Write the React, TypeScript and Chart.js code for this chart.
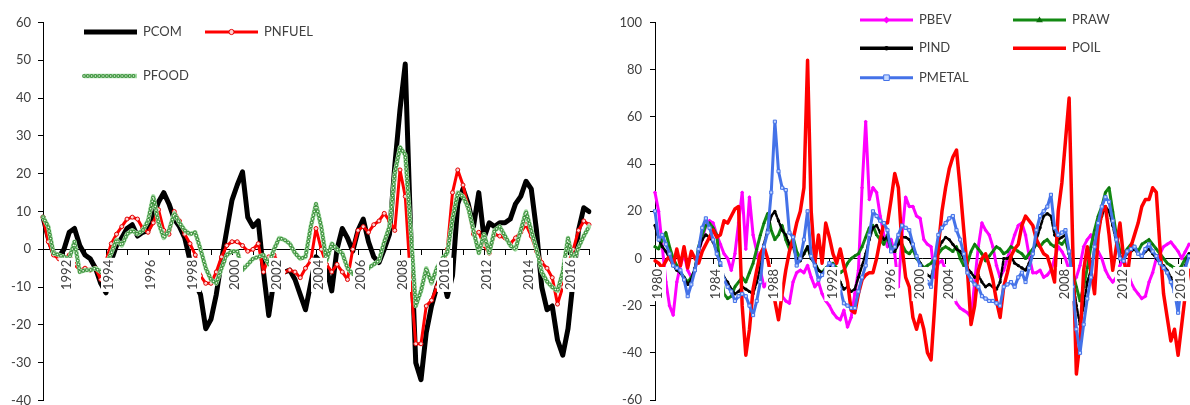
import React, { useEffect, useRef } from 'react';
import { Chart, registerables } from 'chart.js';

Chart.register(...registerables);

// ---------------- Left panel: quarterly, from 1991Q1 ----------------
const leftStartYear = 1991;
const leftAxisYears = ['1992', '1994', '1996', '1998', '2000', '2002', '2004', '2006', '2008', '2010', '2012', '2014', '2016'];

const pcom = [
  8.5, 3, -1, -2, // 1991
  0, 4.5, 5.5, 1, // 1992
  -1.5, -2.5, -5, -9, // 1993
  -11.5, -3, 1, 3, // 1994
  5.5, 6.5, 3.5, 4.5, // 1995
  5, 9, 12.5, 15, // 1996
  12, 8, 6, 3, // 1997
  -3, -9, -12, -21, // 1998
  -18.5, -12, -3, 5, // 1999
  13, 17, 20.5, 8.5, // 2000
  6, 7.5, -6, -17.5, // 2001
  -8, -5.5, -6, -5.5, // 2002
  -8, -12, -16, -9, // 2003
  -2, -3.5, -5, -11, // 2004
  0, 5.5, 3, -0.5, // 2005
  5, 8, 2, -2, // 2006
  -3.5, 0, 4, 22, // 2007
  37, 49, 6, -30, // 2008
  -34.5, -22, -15, -10, // 2009
  -6.5, -12.5, -7, 12, // 2010
  16, 12, 6, 15, // 2011
  3, 7, 6, 7, // 2012
  7, 8, 12, 14, // 2013
  18, 16, 5, -10, // 2014
  -16, -15, -24, -28, // 2015
  -21, -8, 5, 11, // 2016
  10, // 2017
];

const pnfuel = [
  8.5, 2, -1.5, -2.5, // 1991
  -2.5, -1.5, -4, -5.5, // 1992
  -5, -5.5, -5, -8, // 1993
  -3, 1.5, 4, 6, // 1994
  8, 8.5, 8, 5.5, // 1995
  4.5, 7, 10.5, 5, // 1996
  4, 10, 7.5, 4, // 1997
  1.5, -1.5, -7, -9, // 1998
  -9, -6, -2, 1, // 1999
  2, 2, 1, -0.5, // 2000
  0, 1.5, -6, -2, // 2001
  -1.5, -4, -6, -5.5, // 2002
  -6, -7.5, -5, -3, // 2003
  5.5, 0, -4, -6, // 2004
  -4, -6, -8, 0, // 2005
  5, 6, 4.5, 6.5, // 2006
  7.5, 9.5, 7.5, 5, // 2007
  21, 14, -8, -25, // 2008
  -25, -15, -13.5, -10, // 2009
  -5, 0, 15, 21, // 2010
  17, 11, 4, 4.5, // 2011
  1, -1, 4, 3.5, // 2012
  3, 1.5, 3, 4.5, // 2013
  6.5, 3.5, -0.5, -3.5, // 2014
  -5, -7.5, -14.5, -10, // 2015
  -4, 0, 5, 7.5, // 2016
  6.5, // 2017
];

const pfood = [
  8.5, 6, -1, -1.5, // 1991
  -2, -2.5, 2, -6, // 1992
  -5.5, -5.5, -5, -6, // 1993
  -4, -1, 2.5, 1, // 1994
  4, 5, 4, 5, // 1995
  7.5, 14, 7, 3, // 1996
  5, 9.5, 7, 5, // 1997
  4, 4.5, 0, -5, // 1998
  -8, -9, -5, -1.5, // 1999
  -0.5, -0.5, -5.5, -4, // 2000
  -2.5, -2, -1.5, -4, // 2001
  0, 3, 2.5, 1.5, // 2002
  -1, -2.5, -2, 6, // 2003
  12, 6, -3, 1.5, // 2004
  0, -1, -5, -6.5, // 2005
  -7, -7, -5, -4, // 2006
  -3, 2, 6, 20, // 2007
  27, 25, 6, -15, // 2008
  -11, -5, -9, -5, // 2009
  -2.5, -1, 8, 15, // 2010
  14, 11, 5, -1, // 2011
  4, -1, 5, 6, // 2012
  3.5, 1, 0, 5, // 2013
  10, 5, 0, -6, // 2014
  -8.5, -10, -11, -6, // 2015
  3, -3.5, 0.5, 3.5, // 2016
  6, // 2017
];

// ---------------- Right panel: quarterly, from 1980Q1 ----------------
const rightStartYear = 1980;
const rightAxisLabels: [string, string][] = [
  ['1980Q1', '1980'], ['1984Q1', '1984'], ['1988Q1', '1988'], ['1992Q1', '1992'], ['1996Q1', '1996'],
  ['1998Q1', '2000'], ['2000Q1', '2004'], ['2008Q1', '2008'], ['2012Q1', '2012'], ['2016Q1', '2016'],
];

const pbev = [
  28, 20, 5, -10, // 1980
  -20, -24, -10, -3, // 1981
  2, -5, -8, -5, // 1982
  3, 8, 14, 16, // 1983
  15, 10, 6, 2, // 1984
  0, -5, 2, 15, // 1985
  28, 4, 26, 10, // 1986
  3, -5, -12, -10, // 1987
  -8, -6, -12, -16, // 1988
  -18, -19, -10, -6, // 1989
  -5, -6, -3, -8, // 1990
  -12, -10, -15, -18, // 1991
  -20, -23, -25, -26, // 1992
  -22, -29, -25, -15, // 1993
  -5, 30, 58, 25, // 1994
  30, 28, 18, 10, // 1995
  5, 8, 2, -12, // 1996
  10, 26, 22, 22, // 1997
  18, 17, 8, 6, // 1998
  5, -8, -2, -1, // 1999
  -5, -10, -15, -19, // 2000
  -21, -22, -23, -25, // 2001
  -10, 5, 15, 12, // 2002
  10, 5, -3, -8, // 2003
  -5, 0, 5, 10, // 2004
  14, 15, 10, 1, // 2005
  -6, -6, -5, -8, // 2006
  -7, -5, 0, 5, // 2007
  3, 0, -5, -10, // 2008
  -8, -3, 5, 8, // 2009
  10, 6, 3, 0, // 2010
  -5, -8, -10, -8, // 2011
  -3, 0, -5, -10, // 2012
  -13, -15, -17, -16, // 2013
  -10, -6, 0, 2, // 2014
  5, 6, 7, 5, // 2015
  3, 0, 3, 6, // 2016
];

const praw = [
  5, 4, 8, 11, // 1980
  5, 0, -3, -6, // 1981
  -8, -10, -8, -5, // 1982
  5, 10, 14, 15, // 1983
  13, 10, -5, -15, // 1984
  -17, -16, -12, -10, // 1985
  -8, -10, -6, -2, // 1986
  4, 10, 15, 19, // 1987
  12, 8, 10, 14, // 1988
  8, 4, 9, 3, // 1989
  0, 2, 5, 0, // 1990
  -2, -5, -6, -4, // 1991
  -3, -2, -4, -6, // 1992
  -5, -2, 0, 1, // 1993
  2, 5, 9, 13, // 1994
  14, 10, 8, 6, // 1995
  10, 5, 3, 8, // 1996
  6, 3, 2, 4, // 1997
  0, -2, -4, -3, // 1998
  -2, 0, 2, 4, // 1999
  5, 4, 3, 5, // 2000
  0, -3, -2, 3, // 2001
  6, 4, 2, -1, // 2002
  1, 3, 5, 4, // 2003
  2, 3, 5, 4, // 2004
  3, 2, 0, 2, // 2005
  4, 6, 5, 7, // 2006
  8, 6, 5, 7, // 2007
  6, 8, 2, -6, // 2008
  -12, -18, -12, -4, // 2009
  5, 12, 18, 22, // 2010
  28, 30, 20, 10, // 2011
  3, 2, 4, 6, // 2012
  5, 3, 6, 7, // 2013
  8, 6, 4, 2, // 2014
  0, -2, -3, -4, // 2015
  -5, -3, 0, 2, // 2016
];

const pind = [
  14, 8, 5, 3, // 1980
  0, -3, -5, -6, // 1981
  -8, -11, -9, -4, // 1982
  3, 8, 10, 9, // 1983
  7, 3, -3, -8, // 1984
  -10, -13, -15, -14, // 1985
  -12, -13, -14, -15, // 1986
  -10, -4, 6, 12, // 1987
  18, 20, 16, 12, // 1988
  10, 6, 5, 0, // 1989
  -1, 2, 5, 0, // 1990
  -2, -5, -6, -5, // 1991
  -3, -5, -7, -10, // 1992
  -13, -12, -14, -13, // 1993
  -8, -3, 2, 8, // 1994
  13, 14, 11, 8, // 1995
  9, 3, 3, 6, // 1996
  9, 9, 8, 5, // 1997
  1, -2, -5, -7, // 1998
  -8, -2, 4, 7, // 1999
  9, 8, 6, 4, // 2000
  3, 0, -4, -6, // 2001
  -8, -7, -10, -12, // 2002
  -11, -12, -13, -10, // 2003
  0, 0, 1, -2, // 2004
  -3, -4, -5, -2, // 2005
  2, 8, 13, 18, // 2006
  19, 18, 10, 8, // 2007
  9, 10, 2, -8, // 2008
  -20, -28, -20, -10, // 2009
  -5, 4, 12, 18, // 2010
  22, 20, 14, 7, // 2011
  1, 0, 2, 3, // 2012
  4, 2, 1, 3, // 2013
  4, 2, 0, -2, // 2014
  -3, -5, -8, -12, // 2015
  -18, -8, -3, 2, // 2016
];

const poil = [
  -1, -2, -4, -1, // 1980
  1, -3, 4, -3, // 1981
  5, -4, 3, 0, // 1982
  -2, 3, 6, 9, // 1983
  12, 9, 10, 16, // 1984
  15, 18, 21, 22, // 1985
  -20, -41, -30, -13, // 1986
  -5, 2, 5, 0, // 1987
  -8, -18, -26, -15, // 1988
  -5, 3, 8, 15, // 1989
  20, 30, 84, 20, // 1990
  -2, 10, -2, 15, // 1991
  9, 2, -2, 4, // 1992
  -3, -10, -22, -23, // 1993
  -15, -9, -7, -6, // 1994
  -6, 0, 8, 15, // 1995
  15, 25, 36, 30, // 1996
  5, -8, -12, -25, // 1997
  -30, -24, -30, -40, // 1998
  -43, -20, 5, 20, // 1999
  30, 38, 43, 46, // 2000
  30, 12, -5, -28, // 2001
  -20, -5, 0, 2, // 2002
  -3, -9, -18, -25, // 2003
  -12, -6, 1, 4, // 2004
  6, 14, 18, 16, // 2005
  14, 8, 5, 2, // 2006
  1, -4, -10, 20, // 2007
  32, 50, 68, 5, // 2008
  -49, -35, -5, 5, // 2009
  -5, -15, 10, 20, // 2010
  22, 10, -5, 5, // 2011
  15, 0, -8, 5, // 2012
  10, 15, 22, 25, // 2013
  25, 30, 28, 5, // 2014
  -15, -25, -35, -30, // 2015
  -41, -28, -15, -5, // 2016
];

const pmetal = [
  20, 8, 10, 6, // 1980
  2, -3, -4, -5, // 1981
  -9, -16, -11, -5, // 1982
  4, 13, 17, 13, // 1983
  8, 2, -2, -9, // 1984
  -12, -14, -18, -16, // 1985
  -15, -16, -20, -24, // 1986
  -18, -10, 5, 11, // 1987
  28, 58, 37, 30, // 1988
  29, 11, 9, -3, // 1989
  0, 8, 20, 1, // 1990
  -3, -9, -7, -5, // 1991
  -2, -3, -8, -13, // 1992
  -19, -20, -21, -21, // 1993
  -14, -8, -3, 10, // 1994
  20, 18, 16, 15, // 1995
  12, 3, 5, 10, // 1996
  14, 13, 12, 6, // 1997
  1, -3, -7, -10, // 1998
  -12, 0, 10, 13, // 1999
  15, 17, 18, 12, // 2000
  8, 2, -6, -9, // 2001
  -11, -12, -16, -17, // 2002
  -18, -18, -19, -20, // 2003
  -12, -11, -10, -12, // 2004
  -8, -6, -10, -4, // 2005
  2, 12, 18, 20, // 2006
  22, 27, 13, 10, // 2007
  11, 12, 3, -12, // 2008
  -30, -40, -28, -17, // 2009
  -8, 5, 15, 22, // 2010
  26, 24, 16, 8, // 2011
  0, -1, 3, 4, // 2012
  5, 2, 1, 4, // 2013
  6, 3, 1, -2, // 2014
  -4, -6, -10, -14, // 2015
  -23, -10, -4, 1, // 2016
];

// ---------------- helpers ----------------
const FONT = 'Lato, "Open Sans", sans-serif';
const TEXT = '#404040';

function quarterCats(startYear: number, n: number): string[] {
  const out: string[] = [];
  for (let i = 0; i < n; i++) out.push(`${startYear + Math.floor(i / 4)}Q${(i % 4) + 1}`);
  return out;
}

function drawMarker(ctx: CanvasRenderingContext2D, style: string, x: number, y: number, r: number, fill: string, stroke: string, bw: number) {
  ctx.save();
  ctx.setLineDash([]);
  ctx.beginPath();
  if (style === 'rectRot') {
    const d = r * 1.3;
    ctx.moveTo(x, y - d); ctx.lineTo(x + d, y); ctx.lineTo(x, y + d); ctx.lineTo(x - d, y); ctx.closePath();
  } else if (style === 'triangle') {
    const d = r * 1.3;
    ctx.moveTo(x, y - d); ctx.lineTo(x + d, y + d * 0.7); ctx.lineTo(x - d, y + d * 0.7); ctx.closePath();
  } else if (style === 'rect') {
    ctx.rect(x - r, y - r, 2 * r, 2 * r);
  } else {
    ctx.arc(x, y, r, 0, Math.PI * 2);
  }
  ctx.fillStyle = fill;
  ctx.fill();
  if (bw) { ctx.lineWidth = bw; ctx.strokeStyle = stroke; ctx.stroke(); }
  ctx.restore();
}

type LegendSpot = { label: string; x: number; y: number };
const SAMPLE = 53;

function spotLegend(spots: LegendSpot[]) {
  return {
    id: 'spotLegend',
    afterDraw(chart: any) {
      const ctx: CanvasRenderingContext2D = chart.ctx;
      ctx.save();
      for (const s of spots) {
        const layers = chart.data.datasets
          .filter((d: any) => d.label === s.label || d.legendOf === s.label)
          .sort((a: any, b: any) => (b.order ?? 0) - (a.order ?? 0));
        for (const d of layers) {
          ctx.beginPath();
          ctx.setLineDash(d.legendSolid ? [] : d.borderDash || []);
          ctx.lineWidth = d.legendWidth || d.borderWidth;
          ctx.strokeStyle = d.borderColor;
          ctx.lineCap = d.borderDash && !d.legendSolid ? (d.borderCapStyle || 'butt') : 'butt';
          ctx.moveTo(s.x, s.y);
          ctx.lineTo(s.x + SAMPLE, s.y);
          ctx.stroke();
          if (d.pointRadius) {
            drawMarker(ctx, d.pointStyle || 'circle', s.x + SAMPLE / 2, s.y, d.pointRadius + 0.6,
              d.pointBackgroundColor, d.pointBorderColor, d.pointBorderWidth || 0);
          }
        }
        ctx.setLineDash([]);
        ctx.fillStyle = TEXT;
        ctx.font = `13px ${FONT}`;
        ctx.textBaseline = 'middle';
        ctx.textAlign = 'left';
        ctx.fillText(s.label, s.x + SAMPLE + 6, s.y);
      }
      ctx.restore();
    },
  };
}

function xScale(cats: string[], labels: Map<string, string>, tickEvery: number) {
  return {
    type: 'category',
    position: { y: 0 },
    offset: false,
    grid: {
      display: true,
      drawOnChartArea: false,
      drawTicks: true,
      tickLength: 5,
      lineWidth: 1,
      color: 'rgba(0,0,0,0)',
      tickColor: (c: any) => (c.index % tickEvery === 0 ? '#000' : 'rgba(0,0,0,0)'),
    },
    border: { display: true, color: '#000', width: 1 },
    ticks: {
      autoSkip: false,
      minRotation: 90,
      maxRotation: 90,
      padding: 5.5,
      z: 1,
      color: TEXT,
      font: { family: FONT, size: 13, lineHeight: '6px' },
      callback: (_v: any, i: number) => labels.get(cats[i]) ?? '',
      showLabelBackdrop: true,
      backdropColor: (c: any) => (labels.has(cats[c.index]) ? '#ffffff' : 'rgba(0,0,0,0)'),
      backdropPadding: { top: 5, bottom: 5, left: 2, right: 2 },
    },
    afterFit: (s: any) => { s.paddingLeft = 0; s.paddingRight = 0; s.paddingTop = 0; s.paddingBottom = 0; },
  };
}

function yScale(min: number, max: number, step: number, width: number, pad: number) {
  return {
    type: 'linear',
    position: 'left',
    min,
    max,
    ticks: { stepSize: step, color: TEXT, font: { family: FONT, size: 13 }, padding: pad },
    grid: { drawOnChartArea: false, drawTicks: true, tickLength: 5, tickColor: '#000', lineWidth: 1 },
    border: { display: true, color: '#000', width: 1 },
    afterFit: (s: any) => { s.width = width; s.paddingTop = 0; s.paddingBottom = 0; },
  };
}

function baseOptions(x: any, y: any, padding: any) {
  return {
    responsive: false,
    animation: false,
    events: [],
    layout: { padding, autoPadding: false },
    plugins: { legend: { display: false }, tooltip: { enabled: false } },
    elements: {
      line: { tension: 0, borderJoinStyle: 'round', borderCapStyle: 'round' },
      point: { hitRadius: 0 },
    },
    scales: { x, y },
  };
}

function leftConfig(): any {
  const cats = quarterCats(leftStartYear, pcom.length);
  const labelMap = new Map(leftAxisYears.map((y) => [`${y}Q1`, y] as [string, string]));
  return {
    type: 'line',
    data: {
      labels: cats,
      datasets: [
        { label: 'PCOM', data: pcom, borderColor: '#000000', borderWidth: 5, pointRadius: 0, order: 5 },
        {
          label: 'PNFUEL', data: pnfuel, borderColor: '#ff0000', borderWidth: 3, pointRadius: 2,
          pointStyle: 'circle', pointBackgroundColor: '#ffd0d0', pointBorderColor: '#e00000', pointBorderWidth: 1, order: 4,
        },
        // PFOOD is drawn as a chain of small green rings on a light green band
        { label: 'PFOOD band', legendOf: 'PFOOD', data: pfood, borderColor: '#a4dca4', borderWidth: 4.5, pointRadius: 0, order: 3 },
        {
          label: 'PFOOD rings', legendOf: 'PFOOD', data: pfood, borderColor: '#3f923f', borderWidth: 3.8,
          borderDash: [0.01, 3.8], borderCapStyle: 'round', pointRadius: 0, order: 2,
        },
        {
          label: 'PFOOD', data: pfood, borderColor: '#effcea', borderWidth: 1.6,
          borderDash: [0.01, 3.8], borderCapStyle: 'round', pointRadius: 0, order: 1,
        },
      ],
    },
    options: baseOptions(xScale(cats, labelMap, 4), yScale(-40, 60, 10, 43, 7), { left: 0, right: 11, top: 22.5, bottom: 4.5 }),
    plugins: [spotLegend([
      { label: 'PCOM', x: 84, y: 32 },
      { label: 'PNFUEL', x: 205, y: 32 },
      { label: 'PFOOD', x: 84, y: 76 },
    ])],
  };
}

function rightConfig(): any {
  const cats = quarterCats(rightStartYear, poil.length);
  const labelMap = new Map(rightAxisLabels);
  return {
    type: 'line',
    data: {
      labels: cats,
      datasets: [
        {
          label: 'PBEV', data: pbev, borderColor: '#ff00ff', borderWidth: 3, pointRadius: 2, pointStyle: 'rectRot',
          pointBackgroundColor: '#ff00ff', pointBorderColor: '#ff00ff', pointBorderWidth: 0, order: 5,
        },
        {
          label: 'PRAW', data: praw, borderColor: '#138a13', borderWidth: 3, pointRadius: 2, pointStyle: 'triangle',
          pointBackgroundColor: '#0c6e0c', pointBorderColor: '#0c6e0c', pointBorderWidth: 0, order: 4,
        },
        {
          label: 'PIND', data: pind, borderColor: '#000000', borderWidth: 2.5, borderDash: [4, 2], pointRadius: 1.6,
          pointStyle: 'circle', pointBackgroundColor: '#000000', pointBorderColor: '#000000', pointBorderWidth: 0,
          legendSolid: true, legendWidth: 3.5, order: 3,
        },
        { label: 'POIL', data: poil, borderColor: '#ff0000', borderWidth: 3.5, pointRadius: 0, order: 2 },
        {
          label: 'PMETAL', data: pmetal, borderColor: '#4472e8', borderWidth: 3, pointRadius: 2.2, pointStyle: 'rect',
          pointBackgroundColor: '#c4d8ff', pointBorderColor: '#4472e8', pointBorderWidth: 1, order: 1,
        },
      ],
    },
    options: baseOptions(xScale(cats, labelMap, 16), yScale(-60, 100, 20, 55, 8), { left: 0, right: 1, top: 22.6, bottom: 5 }),
    plugins: [spotLegend([
      { label: 'PBEV', x: 260, y: 20 },
      { label: 'PRAW', x: 413, y: 20 },
      { label: 'PIND', x: 260, y: 48.3 },
      { label: 'POIL', x: 413, y: 48.3 },
      { label: 'PMETAL', x: 260, y: 77.7 },
    ])],
  };
}

function ChartCanvas({ build, left, width, height }: { build: () => any; left: number; width: number; height: number }) {
  const ref = useRef<HTMLCanvasElement>(null);
  useEffect(() => {
    const chart = new Chart(ref.current as HTMLCanvasElement, build());
    return () => chart.destroy();
  }, [build]);
  return (
    <canvas
      ref={ref}
      width={width}
      height={height}
      style={{ position: 'absolute', left, top: 0, width, height, display: 'block' }}
    />
  );
}

export default function App() {
  return (
    <div style={{ position: 'fixed', left: 0, top: 0, width: 1190, height: 405, background: '#ffffff', overflow: 'hidden' }}>
      <ChartCanvas build={leftConfig} left={0} width={600} height={405} />
      <ChartCanvas build={rightConfig} left={600} width={590} height={405} />
    </div>
  );
}
